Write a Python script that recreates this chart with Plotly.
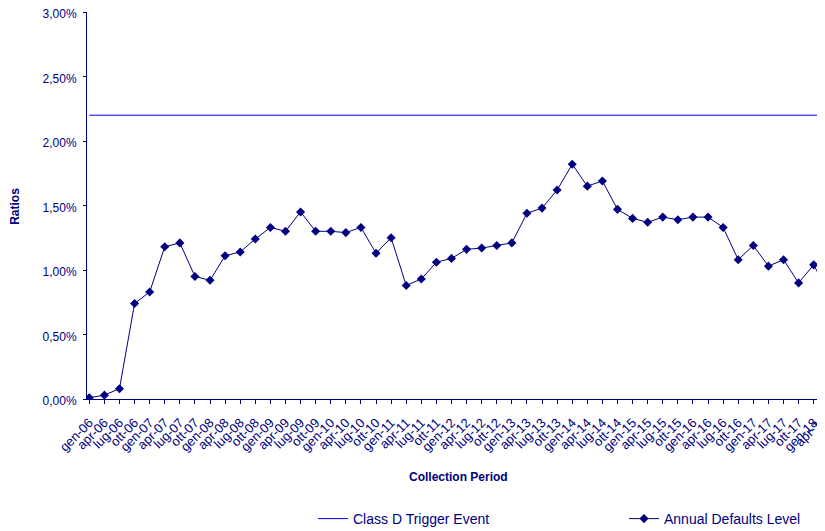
import plotly.graph_objects as go

categories = [
    "gen-06", "apr-06", "lug-06", "ott-06",
    "gen-07", "apr-07", "lug-07", "ott-07",
    "gen-08", "apr-08", "lug-08", "ott-08",
    "gen-09", "apr-09", "lug-09", "ott-09",
    "gen-10", "apr-10", "lug-10", "ott-10",
    "gen-11", "apr-11", "lug-11", "ott-11",
    "gen-12", "apr-12", "lug-12", "ott-12",
    "gen-13", "apr-13", "lug-13", "ott-13",
    "gen-14", "apr-14", "lug-14", "ott-14",
    "gen-15", "apr-15", "lug-15", "ott-15",
    "gen-16", "apr-16", "lug-16", "ott-16",
    "gen-17", "apr-17", "lug-17", "ott-17",
    "gen-18", "apr-18",
]

# Annual Defaults Level (%)
annual_defaults = [
    0.01, 0.03, 0.08, 0.74,
    0.83, 1.18, 1.21, 0.95,
    0.92, 1.11, 1.14, 1.24,
    1.33, 1.30, 1.45, 1.30,
    1.30, 1.29, 1.33, 1.13,
    1.25, 0.88, 0.93, 1.06,
    1.09, 1.16, 1.17, 1.19,
    1.21, 1.44, 1.48, 1.62,
    1.82, 1.65, 1.69, 1.47,
    1.40, 1.37, 1.41, 1.39,
    1.41, 1.41, 1.33, 1.08,
    1.19, 1.03, 1.08, 0.90,
    1.04, 0.82,
]

# Class D Trigger Event (%)
trigger_level = [2.20] * len(categories)

y_tick_vals = [0.0, 0.5, 1.0, 1.5, 2.0, 2.5, 3.0]

navy = "#000080"
font_family = "Liberation Sans, Arial, sans-serif"

# page body has an 8px margin; figure sized to fit the 825x531 window
OFF = 8
W, H = 825 - OFF, 531 - OFF
ML, MR, MT, MB = 87 - OFF, 0, 12 - OFF, H - (399.3 - OFF)
PW, PH = W - ML - MR, H - MT - MB
X_RANGE = [-0.152, 48.75]


def px_to_paper(px, py):
    # px, py are screen pixels
    return (px - OFF - ML) / PW, (H - MB - (py - OFF)) / PH


fig = go.Figure()

fig.add_trace(go.Scatter(
    x=categories,
    y=[v / 100 for v in trigger_level],
    mode="lines",
    name="Class D Trigger Event",
    line=dict(color="#0000FF", width=1),
    legend="legend",
))

fig.add_trace(go.Scatter(
    x=categories,
    y=[v / 100 for v in annual_defaults],
    mode="lines+markers",
    name="Annual Defaults Level",
    line=dict(color=navy, width=1),
    marker=dict(symbol="diamond", size=7, color=navy),
    legend="legend2",
))

xt, yt = px_to_paper(458, 477)
xr, yr = px_to_paper(15, 207)
# paper position of the last category (just past the clipped right edge)
x_last = (len(categories) - 1 - X_RANGE[0]) / (X_RANGE[1] - X_RANGE[0])

fig.update_layout(
    width=W,
    height=H,
    margin=dict(l=ML, r=MR, t=MT, b=MB, autoexpand=False),
    paper_bgcolor="white",
    plot_bgcolor="white",
    separators=",.",
    font=dict(family=font_family, size=12, color=navy),
    xaxis=dict(
        type="category",
        range=X_RANGE,
        tickmode="array",
        tickvals=categories,
        ticktext=categories,
        tickangle=-45,
        automargin=False,
        showline=True,
        linecolor=navy,
        linewidth=1,
        ticks="outside",
        ticklen=4,
        tickcolor=navy,
        ticklabelstandoff=6,
        ticklabeloverflow="allow",
        showgrid=False,
        zeroline=False,
        tickfont=dict(size=13, color=navy),
    ),
    yaxis=dict(
        range=[0, 0.03],
        tickmode="array",
        tickvals=[v / 100 for v in y_tick_vals],
        tickformat=".2%",
        automargin=False,
        showline=True,
        linecolor=navy,
        linewidth=1,
        ticks="outside",
        ticklen=3,
        tickcolor=navy,
        ticklabelstandoff=4,
        ticklabelshift=2,
        ticklabeloverflow="allow",
        showgrid=False,
        zeroline=False,
        tickfont=dict(size=12, color=navy),
    ),
    legend=dict(
        orientation="h",
        xref="container", yref="container",
        x=305 / W, y=1 - 495 / H,
        xanchor="left", yanchor="top",
        font=dict(size=14, color=navy),
        bgcolor="rgba(0,0,0,0)",
    ),
    legend2=dict(
        orientation="h",
        xref="container", yref="container",
        x=616 / W, y=1 - 495 / H,
        xanchor="left", yanchor="top",
        font=dict(size=14, color=navy),
        bgcolor="rgba(0,0,0,0)",
    ),
    annotations=[
        dict(
            text="<b>Collection Period</b>",
            xref="paper", yref="paper",
            x=xt, y=yt,
            xanchor="center", yanchor="middle",
            showarrow=False,
            font=dict(size=12, color=navy),
        ),
        dict(
            text="<b>Ratios</b>",
            xref="paper", yref="paper",
            x=xr, y=yr,
            xanchor="center", yanchor="middle",
            textangle=-90,
            showarrow=False,
            font=dict(size=12, color=navy),
        ),
        dict(
            text=categories[-1],
            xref="paper", yref="paper",
            x=x_last, y=0,
            xanchor="right", yanchor="top",
            textangle=-45,
            showarrow=False,
            xshift=4, yshift=-10,
            font=dict(size=13, color=navy),
        ),
    ],
    showlegend=True,
)

fig.write_html("out.html")
